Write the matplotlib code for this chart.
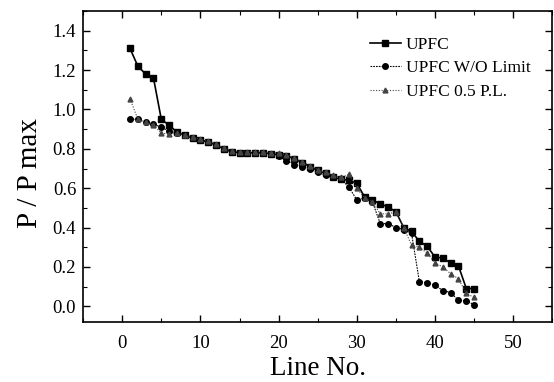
import numpy as np
import matplotlib
matplotlib.use("Agg")
import matplotlib.pyplot as plt
from matplotlib.ticker import MultipleLocator, FormatStrFormatter

# line numbers and normalised flows
line_no = np.arange(1, 46)

upfc = [1.31, 1.22, 1.18, 1.16, 0.95, 0.92, 0.885, 0.87, 0.855, 0.845,
        0.835, 0.82, 0.80, 0.785, 0.78, 0.78, 0.78, 0.78, 0.775, 0.77,
        0.765, 0.75, 0.73, 0.71, 0.69, 0.675, 0.655, 0.645, 0.64, 0.625,
        0.555, 0.54, 0.52, 0.505, 0.48, 0.40, 0.38, 0.33, 0.305, 0.25,
        0.245, 0.22, 0.205, 0.09, 0.09]

upfc_no_limit = [0.95, 0.95, 0.935, 0.925, 0.91, 0.89, 0.88, 0.87, 0.855, 0.845,
                 0.835, 0.82, 0.80, 0.785, 0.78, 0.78, 0.78, 0.78, 0.775, 0.765,
                 0.74, 0.72, 0.71, 0.70, 0.68, 0.665, 0.655, 0.645, 0.605, 0.54,
                 0.55, 0.53, 0.42, 0.42, 0.40, 0.39, 0.37, 0.125, 0.12, 0.107,
                 0.08, 0.07, 0.03, 0.028, 0.008]

upfc_half_pl = [1.055, 0.95, 0.935, 0.92, 0.88, 0.875, 0.88, 0.87, 0.86, 0.85,
                0.84, 0.825, 0.805, 0.79, 0.785, 0.785, 0.785, 0.785, 0.78, 0.78,
                0.77, 0.755, 0.735, 0.715, 0.695, 0.68, 0.665, 0.655, 0.67, 0.60,
                0.55, 0.53, 0.47, 0.47, 0.48, 0.40, 0.31, 0.30, 0.27, 0.22,
                0.20, 0.165, 0.14, 0.065, 0.045]

plt.rcParams['font.family'] = ['Liberation Serif', 'DejaVu Serif']

fig = plt.figure(figsize=(5.54, 3.82), dpi=100)
ax = fig.add_axes([0.150, 0.157, 0.847, 0.814])

ax.plot(line_no, upfc, color='black', lw=1.2, marker='s', ms=4.5, label='UPFC')
ax.plot(line_no, upfc_no_limit, color='black', lw=0.8, ls=(0, (1.5, 1)),
        marker='o', ms=4, label='UPFC W/O Limit')
ax.plot(line_no, upfc_half_pl, color='#444444', lw=0.8, ls=(0, (1, 1.5)),
        marker='^', ms=3.5, label='UPFC 0.5 P.L.')

ax.set_xlim(-5, 55)
ax.set_ylim(-0.08, 1.5)
ax.xaxis.set_major_locator(MultipleLocator(10))
ax.xaxis.set_minor_locator(MultipleLocator(5))
ax.yaxis.set_major_locator(MultipleLocator(0.2))
ax.yaxis.set_minor_locator(MultipleLocator(0.1))
ax.yaxis.set_major_formatter(FormatStrFormatter('%.1f'))
ax.tick_params(which='both', direction='in', top=True, right=True, labelsize=13.5)
ax.tick_params(which='major', length=5, width=1)
ax.tick_params(which='minor', length=3, width=0.8)
ax.tick_params(axis='x', which='major', pad=9)
ax.tick_params(axis='y', which='major', pad=5)
for sp in ax.spines.values():
    sp.set_linewidth(1.2)

ax.set_xlabel('Line No.', fontsize=19.5, labelpad=3)
ax.set_ylabel('P / P max', fontsize=21)
ax.yaxis.set_label_coords(-0.085, 0.479)

ax.legend(loc='upper left', bbox_to_anchor=(0.597, 0.939), frameon=False,
          fontsize=12.5, handlelength=1.75, handletextpad=0.3,
          labelspacing=0.41, borderaxespad=0)

fig.savefig('out.png', dpi=100)
